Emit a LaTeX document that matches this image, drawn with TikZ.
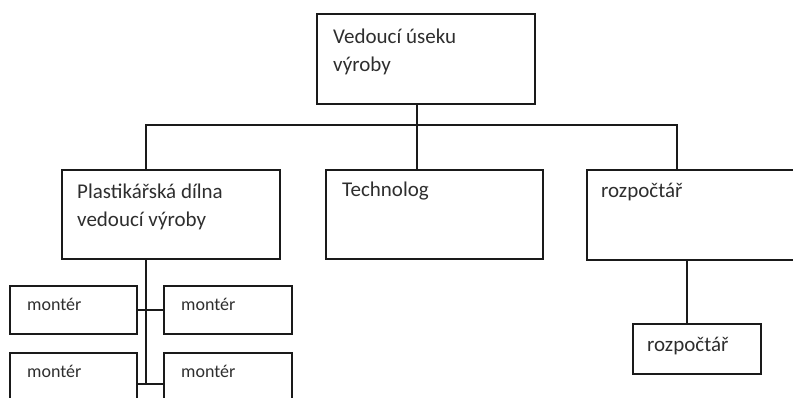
\documentclass[tikz,border=0pt]{standalone}
\usepackage{fontspec}
\setmainfont{Carlito}
\usetikzlibrary{calc}

\definecolor{ink}{HTML}{1A1A1A}
\definecolor{txt}{HTML}{2E2E2E}

\tikzset{
  orgbox/.style 2 args={draw=ink, line width=1.8pt, rectangle, inner sep=0pt,
    anchor=north west, minimum width=#1, minimum height=#2},
  lbl/.style={anchor=base west, inner sep=0pt, align=left, text=txt,
    font=\fontsize{21}{28}\selectfont},
  smalllbl/.style={lbl, font=\fontsize{18}{24}\selectfont},
  wire/.style={draw=ink, line width=1.8pt}
}

\begin{document}
\begin{tikzpicture}[x=1pt, y=-1pt]
\useasboundingbox (0,0) rectangle (793,397);

% boxes
\node[orgbox={218pt}{90pt}] (head) at (316,13) {};
\node[orgbox={218pt}{89pt}] (plast) at (61,169) {};
\node[orgbox={217pt}{89pt}] (tech) at (325,169) {};
\node[orgbox={218pt}{90pt}] (rozp) at (586,169) {};
\node[orgbox={128pt}{50pt}] (rozpsub) at (632,323) {};
\node[orgbox={127pt}{48pt}] (m1) at (9,285) {};
\node[orgbox={128pt}{48pt}] (m2) at (163,285) {};
\node[orgbox={127pt}{48pt}] (m3) at (9,352) {};
\node[orgbox={128pt}{48pt}] (m4) at (163,352) {};

% labels (multi-line labels are anchored at the baseline of their last line)
\node[lbl] (headT) at ($(head.north west)+(17,58)$) {Vedoucí úseku\\výroby};
\node[lbl] (plastT) at ($(plast.north west)+(16,57)$) {Plastikářská dílna\\vedoucí výroby};
\node[lbl] (techT) at ($(tech.north west)+(17,27)$) {Technolog};
\node[lbl] (rozpT) at ($(rozp.north west)+(15,28)$) {rozpočtář};
\node[lbl] (rozpsubT) at ($(rozpsub.north west)+(15,28)$) {rozpočtář};
\node[smalllbl] (m1T) at ($(m1.north west)+(18,25)$) {montér};
\node[smalllbl] (m2T) at ($(m2.north west)+(18,25)$) {montér};
\node[smalllbl] (m3T) at ($(m3.north west)+(18,25)$) {montér};
\node[smalllbl] (m4T) at ($(m4.north west)+(18,25)$) {montér};

% connectors
\coordinate (bus) at (0,125);
\coordinate (headOut) at ($(head.south west)+(101,0)$);
\coordinate (plastIn) at ($(plast.north west)+(85,0)$);
\coordinate (techIn) at ($(tech.north west)+(92,0)$);
\coordinate (rozpIn) at ($(rozp.north west)+(91,0)$);
\coordinate (rozpOut) at ($(rozp.south west)+(101,0)$);
\coordinate (plastOut) at ($(plast.south west)+(85,0)$);
\coordinate (spineEnd) at (plastOut |- m3.east);

\draw[wire] (headOut) -- (headOut |- bus);
\draw[wire] (plastIn) -- (plastIn |- bus) -- (rozpIn |- bus) -- (rozpIn);
\draw[wire] (techIn |- bus) -- (techIn);
\draw[wire] (rozpOut) -- (rozpOut |- rozpsub.north);

\draw[wire] (plastOut) -- ($(spineEnd)+(0,7)$);
\draw[wire] (m1.east) -- (m2.west);
\draw[wire] ($(m3.east)+(0,7)$) -- ($(m4.west)+(0,7)$);
\end{tikzpicture}
\end{document}
